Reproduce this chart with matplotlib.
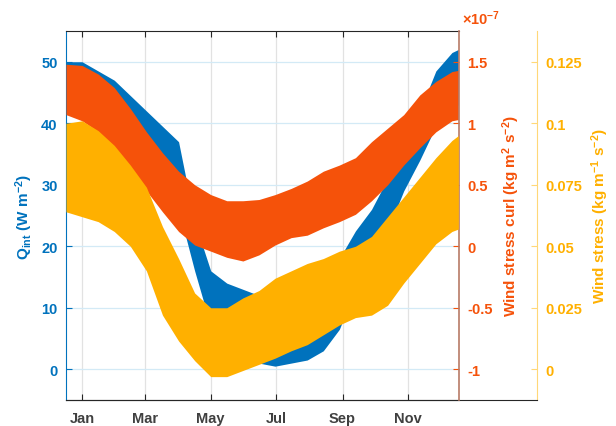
import numpy as np
import matplotlib
matplotlib.use("Agg")
import matplotlib.pyplot as plt

# ---------------- data ----------------
days = [0, 15, 30, 45, 60, 75, 90, 105, 120, 135, 150, 165, 180, 195,
        210, 225, 240, 255, 270, 285, 300, 315, 330, 345, 360, 366]

# Q_int envelope (W m^-2)
q_upper = [50, 50, 48.5, 47, 44.5, 42, 39.5, 37, 24, 16, 14, 13, 12, 11,
           10, 9.5, 11, 18, 22.5, 26, 31, 37, 42, 48.5, 51.5, 52]
q_lower = [43, 42.5, 41, 39, 36, 33, 29, 26, 16, 7, 2.5, 1.5, 1, 0.5,
           1, 1.5, 3, 6.5, 13, 18, 22.5, 29, 34, 39.5, 42.5, 43]

# Wind stress curl envelope (x 1e-7 kg m^2 s^-2)
curl_upper_e7 = [1.48, 1.47, 1.40, 1.29, 1.12, 0.93, 0.76, 0.61, 0.50, 0.42,
                 0.37, 0.37, 0.38, 0.42, 0.47, 0.53, 0.61, 0.66, 0.72, 0.85,
                 0.96, 1.07, 1.23, 1.34, 1.42, 1.43]
curl_lower_e7 = [1.07, 1.02, 0.93, 0.80, 0.61, 0.45, 0.28, 0.12, 0.01, -0.04,
                 -0.09, -0.12, -0.07, 0.01, 0.07, 0.09, 0.15, 0.20, 0.26, 0.37,
                 0.50, 0.66, 0.80, 0.93, 1.02, 1.03]

# Wind stress envelope (kg m^-1 s^-2)
ws_upper = [0.100, 0.101, 0.097, 0.091, 0.083, 0.074, 0.058, 0.045, 0.031,
            0.025, 0.025, 0.029, 0.032, 0.037, 0.040, 0.043, 0.045, 0.048,
            0.050, 0.054, 0.062, 0.070, 0.078, 0.086, 0.093, 0.095]
ws_lower = [0.064, 0.062, 0.060, 0.056, 0.050, 0.040, 0.022, 0.0115, 0.0035,
            -0.003, -0.003, -0.0005, 0.002, 0.0045, 0.0075, 0.010, 0.014,
            0.018, 0.021, 0.022, 0.026, 0.035, 0.043, 0.051, 0.056, 0.057]

month_ticks = [15, 74, 135, 196, 258, 319]
month_labels = ["Jan", "Mar", "May", "Jul", "Sep", "Nov"]
q_ticks = [0, 10, 20, 30, 40, 50]
curl_ticks = [-1, -0.5, 0, 0.5, 1, 1.5]
curl_tick_labels = ["-1", "-0.5", "0", "0.5", "1", "1.5"]
ws_ticks = [0, 0.025, 0.05, 0.075, 0.1, 0.125]
ws_tick_labels = ["0", "0.025", "0.05", "0.075", "0.1", "0.125"]

# ---------------- style ----------------
plt.rcParams.update({
    "font.family": ["Liberation Sans", "DejaVu Sans"],
    "font.weight": "bold",
    "mathtext.fontset": "custom",
    "mathtext.rm": "Liberation Sans:bold",
    "mathtext.it": "Liberation Sans:bold",
    "mathtext.bf": "Liberation Sans:bold",
    "mathtext.default": "regular",
    "axes.unicode_minus": False,
})

BLUE = "#0072BD"
ORANGE = "#F5520A"
YELLOW = "#FFB000"
YSPINE = "#FFD878"
CSPINE = "#B87A66"
DARK = "#262626"
FS = 10.5

W_PX, H_PX = 616, 427
fig = plt.figure(figsize=(W_PX / 100, H_PX / 100), dpi=100)
L = 66 / W_PX
B = (H_PX - 401) / H_PX
W = (459 - 66) / W_PX
H = (401 - 32) / H_PX

# third axis (display only)
axd = fig.add_axes([L, B, (537 - 66) / W_PX, H], facecolor="none", zorder=0)
for s in ("left", "top"):
    axd.spines[s].set_visible(False)
axd.spines["bottom"].set_color(DARK)
axd.spines["right"].set_color(YSPINE)
axd.set_xticks([])
axd.yaxis.tick_right()
axd.set_ylim(-0.0125, 0.1375)
axd.set_yticks(ws_ticks)
axd.set_yticklabels(ws_tick_labels)
axd.tick_params(axis="y", direction="in", length=4, color=YSPINE,
                labelcolor=YELLOW, labelsize=FS, pad=6)

# main axis
ax = fig.add_axes([L, B, W, H], zorder=1)
ax.patch.set_visible(False)
ax.set_xlim(0, 366.6)
ax.set_ylim(-5, 55)
ax.set_xticks(month_ticks)
ax.set_xticklabels(month_labels)
ax.set_yticks(q_ticks)
ax.tick_params(axis="x", direction="in", length=4, top=True, color=DARK,
               labelcolor="#404040", labelsize=FS, pad=8)
ax.tick_params(axis="y", direction="in", length=4, color=BLUE,
               labelcolor=BLUE, labelsize=FS, pad=6)
ax.set_axisbelow(True)
ax.yaxis.grid(True, color="#D3EAF6", linewidth=0.9)
ax.xaxis.grid(True, color="#E2E2E2", linewidth=0.9)
ax.spines["left"].set_color(BLUE)
ax.spines["top"].set_color(DARK)
ax.spines["bottom"].set_color(DARK)
ax.spines["right"].set_visible(False)
ax.fill_between(days, q_lower, q_upper, color=BLUE, lw=0)

# curl axis
ax2 = ax.twinx()
ax2.set_ylim(-1.25, 1.75)
ax2.set_yticks(curl_ticks)
ax2.set_yticklabels(curl_tick_labels)
ax2.tick_params(axis="y", direction="in", length=4, color=ORANGE,
                labelcolor=ORANGE, labelsize=FS, pad=6)
for s in ("left", "top", "bottom"):
    ax2.spines[s].set_visible(False)
ax2.spines["right"].set_color(CSPINE)
ax2.spines["right"].set_linewidth(1.2)
ax2.fill_between(days, curl_lower_e7, curl_upper_e7, color=ORANGE, lw=0)

# wind stress data axis
ax3 = ax.twinx()
ax3.set_ylim(-0.0125, 0.1375)
ax3.axis("off")
ax3.fill_between(days, ws_lower, ws_upper, color=YELLOW, lw=0)

# labels
yc = 1 - 216.5 / H_PX
fig.text(24 / W_PX, yc, r"Q$_{int}$ (W m$^{-2}$)", rotation=90,
         ha="center", va="center", color=BLUE, fontsize=11, fontweight="bold")
fig.text(511 / W_PX, yc, r"Wind stress curl (kg m$^{2}$ s$^{-2}$)",
         rotation=90, ha="center", va="center", color=ORANGE, fontsize=11,
         fontweight="bold")
fig.text(600 / W_PX, yc, r"Wind stress (kg m$^{-1}$ s$^{-2}$)",
         rotation=90, ha="center", va="center", color=YELLOW, fontsize=11,
         fontweight="bold")
fig.text(462 / W_PX, 1 - 19 / H_PX, r"$\times$10$^{-7}$", ha="left",
         va="center", color=ORANGE, fontsize=FS)

fig.savefig("out.png", dpi=100)
